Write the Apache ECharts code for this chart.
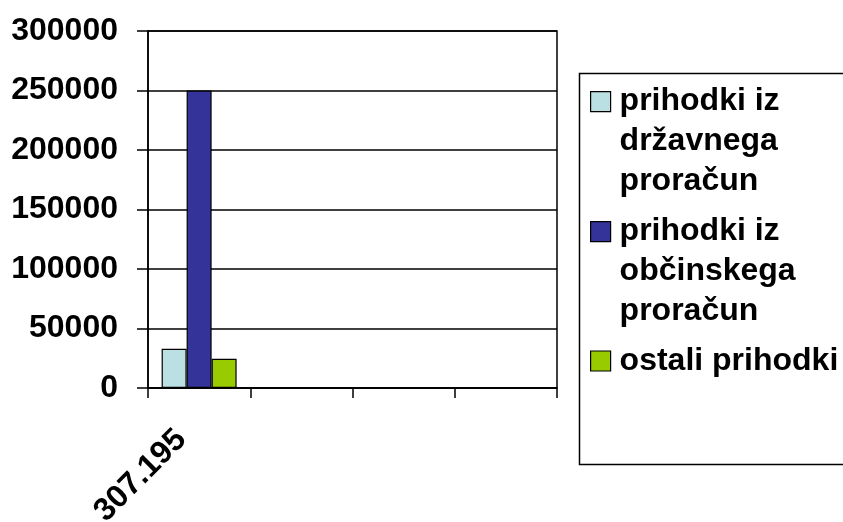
<!DOCTYPE html>
<html>
<head>
<meta charset="utf-8">
<script src="https://cdn.jsdelivr.net/npm/echarts@6/dist/echarts.min.js"></script>
<style>
html,body{margin:0;padding:0;background:#fff;}
#chart{width:843px;height:522px;}
</style>
</head>
<body>
<div id="chart"></div>
<script>
const categories = ['307.195', '', '', ''];
const seriesNames = ['prihodki iz\ndržavnega\nproračun', 'prihodki iz\nobčinskega\nproračun', 'ostali prihodki'];
const drzavni = [33000, null, null, null];
const obcinski = [250000, null, null, null];
const ostali = [24500, null, null, null];
const yTicks = [0, 50000, 100000, 150000, 200000, 250000, 300000];
const colors = ['#BAE0E3', '#333399', '#99CC00'];

const FONT = '"Liberation Sans", Arial, sans-serif';
const chart = echarts.init(document.getElementById('chart'), null, {renderer: 'canvas'});

const tallIcon = 'path://M0,0 L0,0 M0,10 L20,10 L20,30 L0,30 Z M0,120 L0,120';

function legendCfg(name, top, tall, color) {
  return {
    orient: 'vertical',
    left: 590,
    top: top,
    padding: 0,
    itemGap: 0,
    itemWidth: 20,
    itemHeight: tall ? 120 : 20,
    icon: tall ? tallIcon : 'rect',
    symbolKeepAspect: false,
    selectedMode: false,
    data: [{name: name, itemStyle: {color: color, borderColor: '#000', borderWidth: 1.2}}],
    textStyle: {
      fontFamily: FONT, fontWeight: 'bold', fontSize: 32, color: '#000',
      lineHeight: 40, padding: [0, 0, 0, 4]
    }
  };
}

const option = {
  animation: false,
  backgroundColor: '#fff',
  textStyle: {fontFamily: FONT},
  grid: {
    left: 148, right: 286, top: 31, bottom: 134,
    containLabel: false, outerBoundsMode: 'none',
    show: true, borderColor: '#000', borderWidth: 1.5, backgroundColor: 'transparent'
  },
  legend: [
    legendCfg(seriesNames[0], 81, true, colors[0]),
    legendCfg(seriesNames[1], 211, true, colors[1]),
    legendCfg(seriesNames[2], 341, false, colors[2])
  ],
  graphic: [{
    type: 'rect',
    left: 577, top: 71,
    shape: {width: 320, height: 391},
    style: {fill: 'none', stroke: '#000', lineWidth: 1.5},
    z: 0
  }],
  xAxis: {
    type: 'category',
    data: categories,
    boundaryGap: true,
    axisLine: {show: true, lineStyle: {color: '#000', width: 1.5}},
    axisTick: {show: true, interval: 0, length: 10, lineStyle: {color: '#000', width: 1.5}},
    axisLabel: {
      interval: 0, rotate: 45, margin: 29, padding: [0, 25, 0, 0],
      fontFamily: FONT, fontWeight: 'bold', fontSize: 32, color: '#000'
    },
    splitLine: {show: false}
  },
  yAxis: {
    type: 'value',
    min: 0, max: 300000, interval: 50000,
    axisLine: {show: true, lineStyle: {color: '#000', width: 1.5}},
    axisTick: {show: true, length: 11, lineStyle: {color: '#000', width: 1.5}},
    axisLabel: {
      margin: 30,
      fontFamily: FONT, fontWeight: 'bold', fontSize: 32, color: '#000',
      formatter: function (v) { return yTicks.indexOf(v) >= 0 ? String(v) : ''; }
    },
    splitLine: {show: true, lineStyle: {color: '#000', width: 1.5}}
  },
  series: [
    {name: seriesNames[0], type: 'bar', data: drzavni, barWidth: 25, barGap: '0%',
     itemStyle: {color: colors[0], borderColor: '#000', borderWidth: 1.2}},
    {name: seriesNames[1], type: 'bar', data: obcinski, barWidth: 25, barGap: '0%',
     itemStyle: {color: colors[1], borderColor: '#000', borderWidth: 1.2}},
    {name: seriesNames[2], type: 'bar', data: ostali, barWidth: 25, barGap: '0%',
     itemStyle: {color: colors[2], borderColor: '#000', borderWidth: 1.2}}
  ]
};
chart.setOption(option);
</script>
</body>
</html>
